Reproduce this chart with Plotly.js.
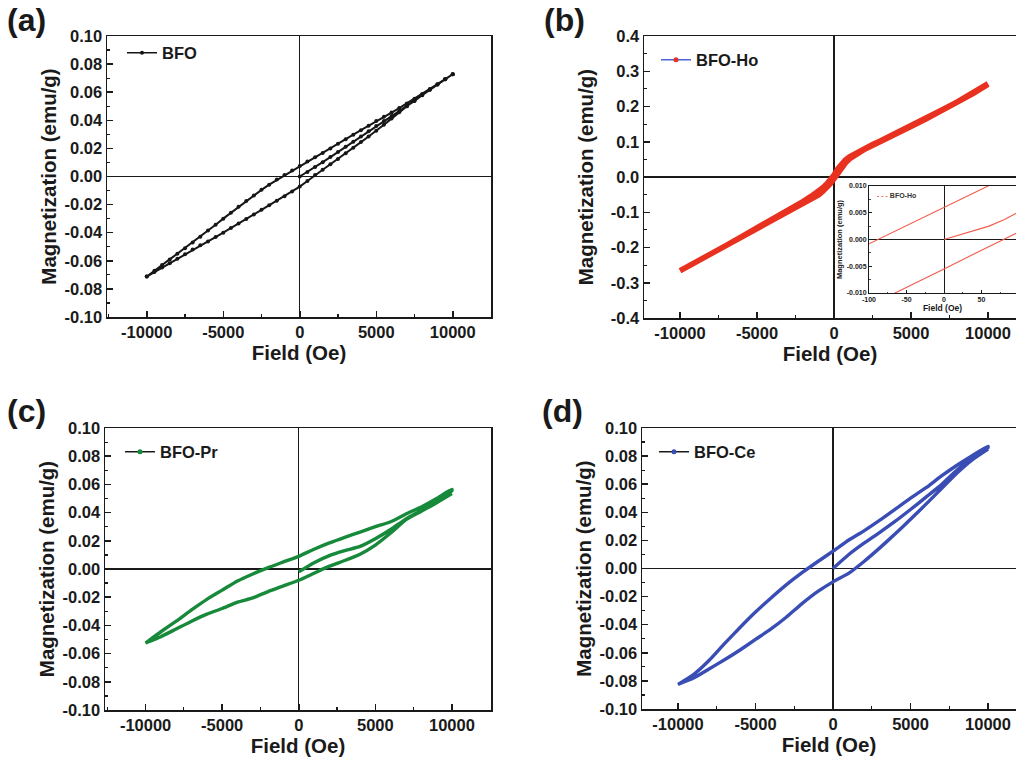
<!DOCTYPE html>
<html><head><meta charset="utf-8">
<script src="https://cdn.plot.ly/plotly-3.0.1.min.js"></script>
<style>html,body{margin:0;padding:0;background:#fff;overflow:hidden}</style>
</head><body><div id="chart" style="width:1016px;height:765px"></div>
<script>
// ---------- tick labels ----------
const fieldTickVals = [-10000, -5000, 0, 5000, 10000];
const fieldTickText = ['-10000', '-5000', '0', '5000', '10000'];
const magTickVals = [-0.10, -0.08, -0.06, -0.04, -0.02, 0.00, 0.02, 0.04, 0.06, 0.08, 0.10];
const magTickText = ['-0.10', '-0.08', '-0.06', '-0.04', '-0.02', '0.00', '0.02', '0.04', '0.06', '0.08', '0.10'];
const hoTickVals = [-0.4, -0.3, -0.2, -0.1, 0.0, 0.1, 0.2, 0.3, 0.4];
const hoTickText = ['-0.4', '-0.3', '-0.2', '-0.1', '0.0', '0.1', '0.2', '0.3', '0.4'];
const insetFieldTickVals = [-100, -50, 0, 50, 100];
const insetFieldTickText = ['-100', '-50', '0', '50', '100'];
const insetMagTickVals = [-0.010, -0.005, 0.000, 0.005, 0.010];
const insetMagTickText = ['-0.010', '-0.005', '0.000', '0.005', '0.010'];

// ---------- field sweeps (Oe) ----------
const fieldInit = [0,500,1000,1500,2000,2500,3000,3500,4000,4500,5000,5500,6000,6500,7000,7500,8000,8500,9000,9500,10000];
const fieldDown = [10000,9500,9000,8500,8000,7500,7000,6500,6000,5500,5000,4500,4000,3500,3000,2500,2000,1500,1000,500,0,-500,-1000,-1500,-2000,-2500,-3000,-3500,-4000,-4500,-5000,-5500,-6000,-6500,-7000,-7500,-8000,-8500,-9000,-9500,-10000];
const fieldUp = [-10000,-9500,-9000,-8500,-8000,-7500,-7000,-6500,-6000,-5500,-5000,-4500,-4000,-3500,-3000,-2500,-2000,-1500,-1000,-500,0,500,1000,1500,2000,2500,3000,3500,4000,4500,5000,5500,6000,6500,7000,7500,8000,8500,9000,9500,10000];
const fieldInitK = [0,1000,2000,3000,4000,5000,6000,7000,8000,9000,10000];
const fieldDownK = [10000,9000,8000,7000,6000,5000,4000,3000,2000,1000,0,-1000,-2000,-3000,-4000,-5000,-6000,-7000,-8000,-9000,-10000];
const fieldUpK = [-10000,-9000,-8000,-7000,-6000,-5000,-4000,-3000,-2000,-1000,0,1000,2000,3000,4000,5000,6000,7000,8000,9000,10000];

// ---------- (a) BFO ----------
const bfoInit = [0.0000,0.0032,0.0067,0.0102,0.0138,0.0174,0.0211,0.0248,0.0285,0.0322,0.0360,0.0395,0.0430,0.0465,0.0500,0.0538,0.0578,0.0617,0.0655,0.0692,0.0728];
const bfoDown = [0.0728,0.0693,0.0657,0.0622,0.0587,0.0553,0.0519,0.0487,0.0455,0.0425,0.0395,0.0362,0.0330,0.0298,0.0266,0.0233,0.0200,0.0168,0.0137,0.0106,0.0075,0.0043,0.0010,-0.0022,-0.0058,-0.0095,-0.0135,-0.0175,-0.0215,-0.0258,-0.0300,-0.0343,-0.0385,-0.0428,-0.0470,-0.0510,-0.0550,-0.0590,-0.0630,-0.0671,-0.0712];
const bfoUp = [-0.0712,-0.0680,-0.0648,-0.0617,-0.0585,-0.0553,-0.0520,-0.0490,-0.0462,-0.0431,-0.0400,-0.0367,-0.0335,-0.0302,-0.0270,-0.0237,-0.0205,-0.0172,-0.0140,-0.0106,-0.0072,-0.0032,0.0010,0.0048,0.0087,0.0125,0.0165,0.0205,0.0245,0.0285,0.0325,0.0368,0.0412,0.0458,0.0500,0.0540,0.0580,0.0618,0.0655,0.0692,0.0728];

// ---------- (b) BFO-Ho ----------
const hoFieldDown = [10000,9000,8000,7000,6000,5000,4000,3000,2500,2000,1500,1000,750,500,250,0,-250,-500,-750,-1000,-1500,-2000,-2500,-3000,-4000,-5000,-6000,-7000,-8000,-9000,-10000];
const hoDown = [0.265,0.238,0.213,0.190,0.167,0.145,0.124,0.102,0.092,0.081,0.070,0.057,0.049,0.038,0.024,0.006,-0.009,-0.021,-0.031,-0.040,-0.055,-0.069,-0.082,-0.095,-0.120,-0.144,-0.169,-0.194,-0.218,-0.242,-0.266];
const hoFieldUp = [-10000,-9000,-8000,-7000,-6000,-5000,-4000,-3000,-2500,-2000,-1500,-1000,-750,-500,-250,0,250,500,750,1000,1500,2000,2500,3000,4000,5000,6000,7000,8000,9000,10000];
const hoUp = [-0.266,-0.244,-0.221,-0.197,-0.173,-0.149,-0.125,-0.101,-0.088,-0.076,-0.063,-0.051,-0.042,-0.032,-0.020,-0.0055,0.010,0.028,0.040,0.051,0.066,0.079,0.089,0.099,0.121,0.143,0.165,0.188,0.211,0.236,0.263];
// inset (low field)
const insetFieldInit = [0,30,60,80,100];
const insetInit = [0.0000,0.0012,0.0025,0.0037,0.0052];
const insetFieldDown = [100,50,0,-50,-100];
const insetDown = [0.0128,0.0094,0.0060,0.0026,-0.0008];
const insetFieldUp = [-100,-50,0,50,80,100];
const insetUp = [-0.0124,-0.0090,-0.0055,-0.0020,0.0000,0.0014];

// ---------- (c) BFO-Pr ----------
const prInit = [-0.0020,0.0045,0.0095,0.0130,0.0160,0.0215,0.0280,0.0355,0.0415,0.0480,0.0555];
const prDown = [0.0565,0.0500,0.0440,0.0390,0.0335,0.0300,0.0262,0.0225,0.0185,0.0140,0.0090,0.0050,0.0010,-0.0035,-0.0085,-0.0150,-0.0215,-0.0290,-0.0370,-0.0445,-0.0525];
const prUp = [-0.0525,-0.0480,-0.0425,-0.0370,-0.0320,-0.0280,-0.0235,-0.0205,-0.0160,-0.0120,-0.0080,-0.0030,0.0020,0.0060,0.0105,0.0170,0.0255,0.0350,0.0410,0.0470,0.0535];

// ---------- (d) BFO-Ce ----------
const ceInit = [0.0000,0.0098,0.0180,0.0256,0.0335,0.0420,0.0508,0.0597,0.0700,0.0785,0.0860];
const ceDown = [0.0870,0.0805,0.0735,0.0659,0.0575,0.0501,0.0421,0.0342,0.0268,0.0201,0.0123,0.0048,-0.0030,-0.0115,-0.0210,-0.0310,-0.0420,-0.0535,-0.0655,-0.0755,-0.0825];
const ceUp = [-0.0825,-0.0780,-0.0715,-0.0650,-0.0580,-0.0505,-0.0430,-0.0345,-0.0250,-0.0165,-0.0095,-0.0035,0.0050,0.0145,0.0245,0.0350,0.0458,0.0569,0.0680,0.0775,0.0850];

// ---------- styling ----------
const FAM = '"Liberation Sans", Arial, sans-serif';
const INK = '#1a1a1a';
const cBFO = '#161616', cHo = '#e8321f', cPr = '#17893b', cCe = '#3a4db5', cHoLeg = '#4d66d4', cInset = '#f25a48';
const W = 1016, H = 765;
const px = v => v / W, py = v => 1 - v / H;
const TICKFONT = {family: FAM, size: 16.5, weight: 'bold', color: INK};
const TITLEFONT = {family: FAM, size: 20.5, weight: 'bold', color: INK};

function fieldAxis(domain, range, anchor, mirror) {
  return {
    domain: domain, range: range, anchor: anchor,
    tickmode: 'array', tickvals: fieldTickVals, ticktext: fieldTickText,
    ticks: 'inside', ticklen: 6, tickwidth: 1.5, tickcolor: INK,
    minor: {ticks: 'inside', ticklen: 3, tickwidth: 1.2, tickcolor: INK, tickmode: 'linear', dtick: 2500, tick0: 0, showgrid: false},
    showline: true, linecolor: INK, linewidth: 1.5, mirror: mirror,
    showgrid: false, zeroline: true, zerolinecolor: INK, zerolinewidth: 1.3,
    tickfont: TICKFONT,
    title: {text: 'Field (Oe)', font: TITLEFONT, standoff: 4},
    fixedrange: true
  };
}
function magAxis(domain, range, anchor, vals, text, minorStep, mirror) {
  return {
    domain: domain, range: range, anchor: anchor,
    tickmode: 'array', tickvals: vals, ticktext: text,
    ticks: 'inside', ticklen: 6, tickwidth: 1.5, tickcolor: INK,
    minor: {ticks: 'inside', ticklen: 3, tickwidth: 1.2, tickcolor: INK, tickmode: 'linear', dtick: minorStep, tick0: 0, showgrid: false},
    showline: true, linecolor: INK, linewidth: 1.5, mirror: mirror,
    showgrid: false, zeroline: true, zerolinecolor: INK, zerolinewidth: 1.3,
    tickfont: TICKFONT,
    title: {text: 'Magnetization (emu/g)', font: TITLEFONT},
    fixedrange: true
  };
}

const traces = [
  // (a)
  {x: fieldInit.concat(fieldDown, fieldUp), y: bfoInit.concat(bfoDown, bfoUp), xaxis: 'x', yaxis: 'y',
   mode: 'lines+markers', line: {color: cBFO, width: 2}, marker: {color: cBFO, size: 4}, showlegend: false, hoverinfo: 'skip'},
  {x: [null], y: [null], xaxis: 'x', yaxis: 'y', name: 'BFO', legend: 'legend',
   mode: 'lines+markers', line: {color: cBFO, width: 1.5}, marker: {color: cBFO, size: 4}},
  // (b)
  {x: hoFieldDown.concat(hoFieldUp), y: hoDown.concat(hoUp), xaxis: 'x2', yaxis: 'y2',
   mode: 'lines', line: {color: cHo, width: 5.5}, showlegend: false, hoverinfo: 'skip'},
  {x: [null], y: [null], xaxis: 'x2', yaxis: 'y2', name: 'BFO-Ho', legend: 'legend2',
   mode: 'lines+markers', line: {color: cHoLeg, width: 1.5}, marker: {color: cHo, size: 5}},
  // inset
  {x: insetFieldInit.concat([null], insetFieldDown, [null], insetFieldUp),
   y: insetInit.concat([null], insetDown, [null], insetUp), xaxis: 'x5', yaxis: 'y5',
   mode: 'lines', line: {color: cInset, width: 1.1}, showlegend: false, hoverinfo: 'skip'},
  // (c)
  {x: fieldInitK.concat(fieldDownK, fieldUpK), y: prInit.concat(prDown, prUp), xaxis: 'x3', yaxis: 'y3',
   mode: 'lines', line: {color: cPr, width: 3.4, shape: 'spline', smoothing: 0.5}, showlegend: false, hoverinfo: 'skip'},
  {x: [null], y: [null], xaxis: 'x3', yaxis: 'y3', name: 'BFO-Pr', legend: 'legend3',
   mode: 'lines+markers', line: {color: INK, width: 1.5}, marker: {color: cPr, size: 5}},
  // (d)
  {x: fieldInitK.concat(fieldDownK, fieldUpK), y: ceInit.concat(ceDown, ceUp), xaxis: 'x4', yaxis: 'y4',
   mode: 'lines', line: {color: cCe, width: 3.4, shape: 'spline', smoothing: 0.5}, showlegend: false, hoverinfo: 'skip'},
  {x: [null], y: [null], xaxis: 'x4', yaxis: 'y4', name: 'BFO-Ce', legend: 'legend4',
   mode: 'lines+markers', line: {color: INK, width: 1.5}, marker: {color: cCe, size: 5}}
];

function legendAt(x, y) {
  return {x: px(x), y: py(y), xanchor: 'left', yanchor: 'middle', bgcolor: 'rgba(0,0,0,0)',
          borderwidth: 0, font: {family: FAM, size: 16.5, weight: 'bold', color: INK}};
}

const layout = {
  width: W, height: H, margin: {l: 0, r: 0, t: 0, b: 0},
  paper_bgcolor: '#ffffff', plot_bgcolor: 'rgba(0,0,0,0)',
  font: {family: FAM, color: INK},
  xaxis: fieldAxis([px(107), px(491)], [-12600, 12500], 'y', true),
  yaxis: magAxis([py(317), py(36)], [-0.10, 0.10], 'x', magTickVals, magTickText, 0.01, true),
  xaxis2: fieldAxis([px(644), 1], [-12338, 11818], 'y2', true),
  yaxis2: magAxis([py(318), py(36)], [-0.4, 0.4], 'x2', hoTickVals, hoTickText, 0.05, false),
  xaxis3: fieldAxis([px(105), px(491)], [-12650, 12550], 'y3', true),
  yaxis3: magAxis([py(710), py(428)], [-0.10, 0.10], 'x3', magTickVals, magTickText, 0.01, true),
  xaxis4: fieldAxis([px(642), 1], [-12323, 11806], 'y4', true),
  yaxis4: magAxis([py(709), py(428)], [-0.10, 0.10], 'x4', magTickVals, magTickText, 0.01, false),
  xaxis5: {
    domain: [px(869), 1], range: [-100, 96], anchor: 'y5',
    tickmode: 'array', tickvals: insetFieldTickVals, ticktext: insetFieldTickText,
    ticks: 'inside', ticklen: 3, tickwidth: 1, tickcolor: INK,
    minor: {ticks: 'inside', ticklen: 1.5, tickwidth: 0.8, tickcolor: INK, tickmode: 'linear', dtick: 25, tick0: 0},
    showline: true, linecolor: INK, linewidth: 1, mirror: true, showgrid: false,
    zeroline: true, zerolinecolor: INK, zerolinewidth: 1,
    tickfont: {family: FAM, size: 7, weight: 'bold', color: INK},
    title: {text: 'Field (Oe)', font: {family: FAM, size: 8.5, weight: 'bold', color: INK}, standoff: 2},
    fixedrange: true
  },
  yaxis5: {
    domain: [py(293), py(186)], range: [-0.010, 0.010], anchor: 'x5',
    tickmode: 'array', tickvals: insetMagTickVals, ticktext: insetMagTickText,
    ticks: 'inside', ticklen: 3, tickwidth: 1, tickcolor: INK,
    minor: {ticks: 'inside', ticklen: 1.5, tickwidth: 0.8, tickcolor: INK, tickmode: 'linear', dtick: 0.0025, tick0: 0},
    showline: true, linecolor: INK, linewidth: 1, mirror: false, showgrid: false,
    zeroline: true, zerolinecolor: INK, zerolinewidth: 1,
    tickfont: {family: FAM, size: 7, weight: 'bold', color: INK},
    title: {text: 'Magnetization (emu/g)', font: {family: FAM, size: 7.5, weight: 'bold', color: INK}, standoff: 3},
    fixedrange: true
  },
  legend: legendAt(122, 53),
  legend2: legendAt(656, 60),
  legend3: legendAt(120, 452),
  legend4: legendAt(654, 452),
  annotations: [
    {text: '(a)', x: px(5), y: py(20), xref: 'paper', yref: 'paper', xanchor: 'left', yanchor: 'middle', showarrow: false, font: {family: FAM, size: 32, weight: 'bold', color: INK}},
    {text: '(b)', x: px(542), y: py(20), xref: 'paper', yref: 'paper', xanchor: 'left', yanchor: 'middle', showarrow: false, font: {family: FAM, size: 32, weight: 'bold', color: INK}},
    {text: '(c)', x: px(5), y: py(411), xref: 'paper', yref: 'paper', xanchor: 'left', yanchor: 'middle', showarrow: false, font: {family: FAM, size: 32, weight: 'bold', color: INK}},
    {text: '(d)', x: px(540), y: py(411), xref: 'paper', yref: 'paper', xanchor: 'left', yanchor: 'middle', showarrow: false, font: {family: FAM, size: 32, weight: 'bold', color: INK}},
    {text: '<span style="color:' + cInset + '">- - -</span> BFO-Ho', x: px(875), y: py(195), xref: 'paper', yref: 'paper', xanchor: 'left', yanchor: 'middle', showarrow: false, font: {family: FAM, size: 7, weight: 'bold', color: '#333'}}
  ]
};

Plotly.newPlot('chart', traces, layout, {displayModeBar: false, staticPlot: true});
</script></body></html>
